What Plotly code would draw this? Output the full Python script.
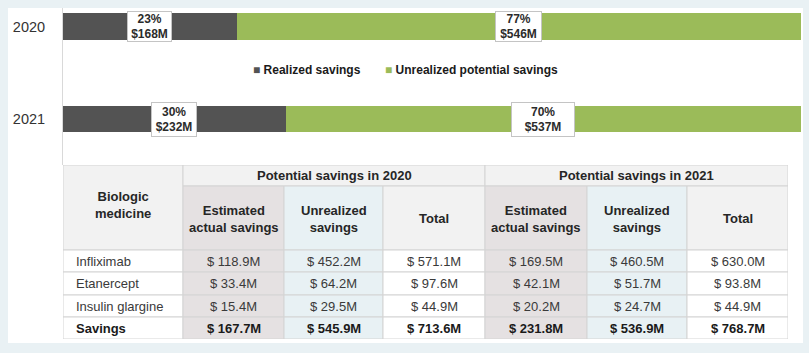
import plotly.graph_objects as go

# ---------------- data ----------------
years = ["2020", "2021"]
realized = [168, 232]
unrealized = [546, 537]
realized_pct = ["23%", "30%"]
unrealized_pct = ["77%", "70%"]
legend_names = ["Realized savings", "Unrealized potential savings"]

medicines = ["Infliximab", "Etanercept", "Insulin glargine", "Savings"]
est_2020 = [118.9, 33.4, 15.4, 167.7]
unr_2020 = [452.2, 64.2, 29.5, 545.9]
tot_2020 = [571.1, 97.6, 44.9, 713.6]
est_2021 = [169.5, 42.1, 20.2, 231.8]
unr_2021 = [460.5, 51.7, 24.7, 536.9]
tot_2021 = [630.0, 93.8, 44.9, 768.7]

first_header = "Biologic<br>medicine"
period_headers = ["Potential savings in 2020", "Potential savings in 2021"]
sub_headers = ["Estimated<br>actual savings", "Unrealized<br>savings", "Total"]

# ---------------- layout constants ----------------
W, H = 809, 353
FONT = "Liberation Sans, Arial, Helvetica, sans-serif"
DARK = "#535353"
GREEN = "#9bbb59"
BG = "#e9f1f4"
GRID = "#d4d4d4"
HEAD_BG = "#f2f2f2"
EST_BG = "#e5e1e2"
UNR_BG = "#e8f1f4"

col_edges = [63, 183, 284, 383, 485, 587, 687, 788]
row_edges = [165, 186, 250, 272, 295, 317, 339]


def fx(p):
    return p / W


def fy(p):
    return 1 - p / H


fig = go.Figure()

# ---------------- stacked bars ----------------
for name, vals, color in [(legend_names[0], realized, DARK), (legend_names[1], unrealized, GREEN)]:
    fig.add_trace(go.Bar(
        y=years, x=vals, orientation="h", name=name,
        marker=dict(color=color, line=dict(width=0)),
        width=0.29, showlegend=False, hoverinfo="skip",
        xaxis="x", yaxis="y",
    ))

annotations = []
box_w = [[43, 45], [44, 62]]
box_h = [29, 33]
for i, yr in enumerate(years):
    tot = realized[i] + unrealized[i]
    r = realized[i] / tot * 100
    centers = [r / 2, r + (100 - r) / 2]
    labels = [f"{realized_pct[i]}<br>${realized[i]}M", f"{unrealized_pct[i]}<br>${unrealized[i]}M"]
    for j in range(2):
        annotations.append(dict(
            xref="x", yref="y", x=centers[j], y=i, text=f"<b>{labels[j]}</b>",
            showarrow=False, bgcolor="white", bordercolor="#c4c4c4", borderwidth=1,
            borderpad=0, width=box_w[i][j], height=box_h[i],
            font=dict(family=FONT, size=12, color="#2b2b2b"), align="center",
        ))

# manual legend
legend_x = [251, 383]
for name, color, lx in zip(legend_names, [DARK, GREEN], legend_x):
    annotations.append(dict(
        xref="paper", yref="paper", x=fx(lx), y=fy(70), xanchor="left", yanchor="middle",
        text=f"<span style='color:{color}'>■</span> <b>{name}</b>", showarrow=False,
        font=dict(family=FONT, size=12, color="#1a1a1a"),
    ))

# ---------------- table ----------------
shapes = []
# white panel
shapes.append(dict(type="rect", xref="paper", yref="paper", x0=fx(8), x1=fx(803),
                   y0=fy(343), y1=fy(8), fillcolor="white", line=dict(width=0), layer="below"))


def cell(x0, x1, y0, y1, fill):
    shapes.append(dict(type="rect", xref="x2", yref="y2", x0=x0, x1=x1, y0=y0, y1=y1,
                       fillcolor=fill, line=dict(color=GRID, width=1), layer="above"))


def txt(x, y, s, bold=False, xanchor="center", color="#3a3a3a", size=13):
    annotations.append(dict(
        xref="x2", yref="y2", x=x, y=y, text=f"<b>{s}</b>" if bold else s,
        showarrow=False, xanchor=xanchor, yanchor="middle", align="center",
        font=dict(family=FONT, size=size, color=color),
    ))


HEAD_COLOR = "#262626"
# first header, spanning two header rows
cell(col_edges[0], col_edges[1], row_edges[0], row_edges[2], HEAD_BG)
txt((col_edges[0] + col_edges[1]) / 2, (row_edges[0] + row_edges[2]) / 2 - 2, first_header, True, color=HEAD_COLOR)

# period headers spanning three columns each
for k, ph in enumerate(period_headers):
    a, b = col_edges[1 + 3 * k], col_edges[4 + 3 * k]
    cell(a, b, row_edges[0], row_edges[1], HEAD_BG)
    txt((a + b) / 2, (row_edges[0] + row_edges[1]) / 2, ph, True, color=HEAD_COLOR)

sub_fills = [EST_BG, UNR_BG, HEAD_BG]
data_fills = [EST_BG, UNR_BG, "white"]
for k in range(2):
    for j, sh in enumerate(sub_headers):
        c = 1 + 3 * k + j
        a, b = col_edges[c], col_edges[c + 1]
        cell(a, b, row_edges[1], row_edges[2], sub_fills[j])
        txt((a + b) / 2, (row_edges[1] + row_edges[2]) / 2 + 1, sh, True, color=HEAD_COLOR)

columns = [est_2020, unr_2020, tot_2020, est_2021, unr_2021, tot_2021]
for r, med in enumerate(medicines):
    y0, y1 = row_edges[2 + r], row_edges[3 + r]
    ym = (y0 + y1) / 2
    last = r == len(medicines) - 1
    color = "#1a1a1a" if last else "#3a3a3a"
    cell(col_edges[0], col_edges[1], y0, y1, "white")
    txt(col_edges[0] + 11, ym, med, last, xanchor="left", color=color)
    for c, col in enumerate(columns):
        a, b = col_edges[1 + c], col_edges[2 + c]
        cell(a, b, y0, y1, data_fills[c % 3])
        txt((a + b) / 2, ym, f"$ {col[r]:.1f}M", last, color=color)

fig.update_layout(
    width=W, height=H, margin=dict(l=0, r=0, t=0, b=0),
    paper_bgcolor=BG, plot_bgcolor="rgba(0,0,0,0)",
    barmode="stack", barnorm="percent", bargap=0,
    showlegend=False,
    font=dict(family=FONT, color="#333333"),
    xaxis=dict(domain=[fx(63), fx(801)], range=[0, 100], visible=False, fixedrange=True, anchor="y"),
    yaxis=dict(domain=[fy(165), fy(8)], type="category", categoryorder="array", categoryarray=years,
               range=[1.497, -0.2], showline=True, linecolor="#d9d9d9", linewidth=1,
               showgrid=False, zeroline=False, ticks="", ticklabelstandoff=14,
               tickfont=dict(family=FONT, size=14.5, color="#333333"), fixedrange=True, anchor="x"),
    xaxis2=dict(domain=[fx(63), fx(788)], range=[63, 788], visible=False, fixedrange=True, anchor="y2"),
    yaxis2=dict(domain=[fy(339), fy(165)], range=[339, 165], visible=False, fixedrange=True, anchor="x2"),
    shapes=shapes, annotations=annotations,
)

fig.write_html("out.html")
